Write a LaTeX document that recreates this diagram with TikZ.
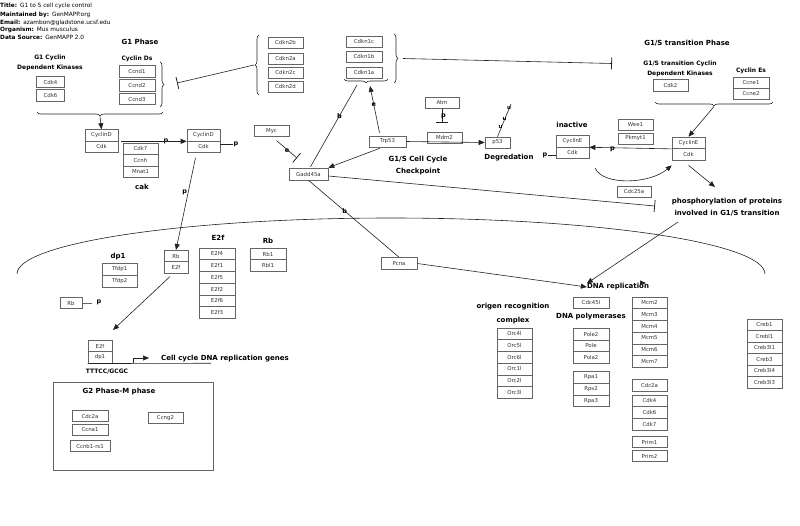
\documentclass[tikz,border=0pt]{standalone}
\usepackage{fontspec}
\setmainfont{DejaVu Sans}
\usetikzlibrary{arrows.meta,decorations.pathreplacing,calc}
\definecolor{boxc}{HTML}{666666}
\definecolor{txtc}{HTML}{333333}
\definecolor{linec}{HTML}{222222}
\begin{document}
\begin{tikzpicture}[x=1pt,y=-1pt,
 gbox/.style={draw=boxc, line width=0.6pt, text=txtc, font=\fontsize{5.4}{6}\selectfont, minimum width=36pt, minimum height=11.5pt, inner sep=0pt},
 hdr/.style={font=\bfseries\fontsize{7}{8}\selectfont, inner sep=0pt},
 shdr/.style={font=\bfseries\fontsize{6}{7}\selectfont, inner sep=0pt},
 mhdr/.style={font=\bfseries\fontsize{7}{8}\selectfont, inner sep=0pt},
 meta/.style={font=\fontsize{5.8}{7}\selectfont, anchor=west, inner sep=0pt},
 lab/.style={font=\bfseries\fontsize{6.5}{7}\selectfont, inner sep=0pt},
 conn/.style={line width=0.6pt, draw=linec},
 arr/.style={conn, -{Triangle[length=6pt,width=5pt]}},
 inh/.style={conn, -{Bar[width=12pt,line width=0.8pt]}},
 brc/.style={conn, decorate, decoration={brace, amplitude=4pt}},
]
\useasboundingbox (0,0) rectangle (800,525);
\fill[white] (0,0) rectangle (800,525);

% ---------- header ----------
\node[meta] (t1) at (0,6) {\textbf{Title:}\enspace G1 to S cell cycle control};
\node[meta] (t2) at (0,14.5) {\textbf{Maintained by:}\enspace GenMAPP.org};
\node[meta] (t3) at (0,22.5) {\textbf{Email:}\enspace azambon@gladstone.ucsf.edu};
\node[meta] (t4) at (0,30) {\textbf{Organism:}\enspace Mus musculus};
\node[meta] (t5) at (0,37.5) {\textbf{Data Source:}\enspace GenMAPP 2.0};

% ---------- G1 phase ----------
\node[hdr] (g1ph) at (140,42) {G1 Phase};
\node[shdr] (g1c1) at (50,58) {G1 Cyclin};
\node[shdr] (g1c2) at (50,67.5) {Dependent Kinases};
\node[gbox, minimum width=28pt] (cdk4a) at (50.5,82) {Cdk4};
\node[gbox, minimum width=28pt] (cdk6a) at (50.5,95.5) {Cdk6};
\node[shdr] (cycds) at (137,59) {Cyclin Ds};
\node[gbox] (ccnd1) at (137,71.5) {Ccnd1};
\node[gbox] (ccnd2) at (137,85.5) {Ccnd2};
\node[gbox] (ccnd3) at (137,99) {Ccnd3};

\draw[brc] (160,62) -- (160,107);
\coordinate (ccndtip) at (165,84.5);
\coordinate (ccndbar) at (177,83);
\draw[brc] (163,112) -- (37,112);
\coordinate (g1tip) at (100,116.5);

\node[gbox, minimum width=33pt] (cycdL) at (101.5,135.25) {CyclinD};
\node[gbox, minimum width=33pt] (cdkL) at (101.5,146.75) {Cdk};
\draw[arr] (g1tip) -- (cycdL.north);

\node[gbox, minimum width=35pt] (cdk7a) at (140.5,148.75) {Cdk7};
\node[gbox, minimum width=35pt] (ccnh) at (140.5,160.25) {Ccnh};
\node[gbox, minimum width=35pt] (mnat1) at (140.5,171.75) {Mnat1};
\node[hdr] (cak) at (142,187) {cak};

\node[gbox, minimum width=33pt] (cycdR) at (203.5,135.25) {CyclinD};
\node[gbox, minimum width=33pt] (cdkR) at (203.5,146.75) {Cdk};
\node[lab] (pcak) at (166,141.5) {p};
\draw[arr] (cycdL.south east) ++(3,0) coordinate (cdL) (cdL) -- (cycdR.south west);
\node[lab] (pR) at (236,144) {p};
\draw[conn] (cdkR.east |- pR) -- (pR.west);

% ---------- Cdkn groups ----------
\node[gbox, minimum width=35pt, minimum height=11pt] (cdkn2b) at (285.5,42.5) {Cdkn2b};
\node[gbox, minimum width=35pt, minimum height=11pt] (cdkn2a) at (285.5,58.5) {Cdkn2a};
\node[gbox, minimum width=35pt, minimum height=11pt] (cdkn2c) at (285.5,72.5) {Cdkn2c};
\node[gbox, minimum width=35pt, minimum height=11pt] (cdkn2d) at (285.5,86.5) {Cdkn2d};
\draw[brc] (259,95) -- (259,35);
\coordinate (c2tip) at (254,65);
\draw[inh] (c2tip) -- (ccndbar);

\node[gbox, minimum height=11pt] (cdkn1c) at (364,41.5) {Cdkn1c};
\node[gbox, minimum height=11pt] (cdkn1b) at (364,56.5) {Cdkn1b};
\node[gbox, minimum height=11pt] (cdkn1a) at (364,72.5) {Cdkn1a};
\draw[brc] (394,34) -- (394,83);
\coordinate (c1tip) at (399,58.5);
\coordinate (c1bar) at (612,63.5);
\draw[inh] (c1tip) ++(4,0) coordinate (c1s) (c1s) -- (c1bar);
\draw[brc] (388,79) -- (344,79);
\coordinate (c1btipL) at (357,85);
\coordinate (c1btipR) at (370,86);

% ---------- checkpoint ----------
\node[gbox, minimum width=35pt, minimum height=10.5pt] (myc) at (271.5,131) {Myc};
\node[gbox, minimum width=39pt, minimum height=12pt] (gadd) at (308.5,174) {Gadd45a};
\node[gbox, minimum width=37pt, minimum height=11pt] (trp53) at (387.5,141.5) {Trp53};
\node[gbox, minimum width=35pt, minimum height=11pt] (mdm2) at (444.5,137.5) {Mdm2};
\node[gbox, minimum width=34pt, minimum height=10.5pt] (atm) at (442,103) {Atm};
\node[gbox, minimum width=25pt, minimum height=11pt] (p53) at (497.5,142.5) {p53};

\coordinate (mycbar) at (297,158);
\draw[inh] (myc.south) ++(5,4) coordinate (mycs) (mycs) -- (mycbar);
\node[lab] (emyc) at (287,151) {e};

\draw[conn] (gadd.north) ++(2,-1) coordinate (gn) (gn) -- node[lab, pos=0.62] (bgc) {b} (c1btipL);
\draw[arr] (trp53.north) ++(-8,-3) coordinate (tn) (tn) -- node[lab, pos=0.6] (etc) {e} (c1btipR);
\draw[arr] (trp53.south west) ++(11,1) coordinate (tsw) (tsw) -- (gadd.north east);
\draw[arr] (trp53.east) -- (p53.west);
\coordinate (atmbar) at (442,123);
\draw[inh] (atm.south) -- (atmbar);
\node[lab] (patm) at (443.5,116.5) {p};
\coordinate (p53u) at (511,104);
\draw[conn] (p53.north) -- (p53u);
\node[lab, font=\bfseries\fontsize{5.5}{6}\selectfont] (u1) at (500.5,127.5) {u};
\node[lab, font=\bfseries\fontsize{5.5}{6}\selectfont] (u2) at (504.5,119.5) {u};
\node[lab, font=\bfseries\fontsize{5.5}{6}\selectfont] (u3) at (509,108) {u};

\node[hdr] (chk1) at (418,160) {G1/S Cell Cycle};
\node[hdr] (chk2) at (418,172) {Checkpoint};
\node[hdr] (degr) at (509,158) {Degredation};

\coordinate (gaddbar) at (655,206);
\draw[inh] (gadd.east) ++(0,2) coordinate (ge) (ge) -- (gaddbar);

% ---------- G1/S transition ----------
\node[hdr] (g1sph) at (687,43) {G1/S transition Phase};
\node[shdr] (g1sc1) at (680,64) {G1/S transition Cyclin};
\node[shdr] (g1sc2) at (680,74) {Dependent Kinases};
\node[gbox, minimum width=35pt] (cdk2) at (670.5,85.5) {Cdk2};
\node[shdr] (cyces) at (751,71) {Cyclin Es};
\node[gbox, minimum width=36pt, minimum height=11pt] (ccne1) at (751,82.5) {Ccne1};
\node[gbox, minimum width=36pt, minimum height=11pt] (ccne2) at (751,94) {Ccne2};
\draw[brc] (773,102) -- (655,102);
\coordinate (g1stip) at (714,106.5);

\node[gbox, minimum width=33pt] (cycER) at (688.5,142.75) {CyclinE};
\node[gbox, minimum width=33pt] (cdkER) at (688.5,154.25) {Cdk};
\draw[arr] (g1stip) -- (cycER.north);

\node[gbox, minimum width=35pt, minimum height=11pt] (wee1) at (635.5,124.5) {Wee1};
\node[gbox, minimum width=35pt, minimum height=11pt] (pkmyt1) at (635.5,138.5) {Pkmyt1};

\node[hdr] (inact) at (572,125) {inactive};
\node[gbox, minimum width=33pt] (cycEL) at (572.5,141.25) {CyclinE};
\node[gbox, minimum width=33pt] (cdkEL) at (572.5,152.75) {Cdk};
\draw[arr] (cycER.south west) -- ++(-4,0) coordinate (ew) (ew) -- (cycEL.south east);
\node[lab] (pE) at (612.5,149.5) {p};
\node[lab] (pEL) at (545,155) {p};
\draw[conn] (pEL.east) -- (cdkEL.west |- pEL);

\node[gbox, minimum width=34pt, minimum height=11pt] (cdc25a) at (634,191.5) {Cdc25a};
\coordinate (cvs) at (595,168);
\coordinate (cve) at ($(cdkER.south west)+(0,5)$);
\draw[arr] (cvs) .. controls (603,186) and (650,184) .. (cve);

\node[mhdr] (phos1) at (727,202) {phosphorylation of proteins};
\node[mhdr] (phos2) at (727,213.5) {involved in G1/S transition};
\draw[arr] (cdkER.south) ++(0,5) coordinate (es) (es) -- (715,187);

% ---------- nucleus curve ----------
\draw[conn] (17,274) .. controls (17,243) and (184.4,218) .. (391,218) .. controls (597.6,218) and (765,243) .. (765,274);

% ---------- E2f / Rb ----------
\node[hdr] (dp1t) at (118,257) {dp1};
\node[gbox, minimum width=35pt] (tfdp1) at (119.5,269.5) {Tfdp1};
\node[gbox, minimum width=35pt] (tfdp2) at (119.5,281.5) {Tfdp2};
\node[gbox, minimum width=24pt] (rbA) at (176,256) {Rb};
\node[gbox, minimum width=24pt] (e2fA) at (176,267.5) {E2f};
\draw[arr] (cdkR.south) ++(-8,5) coordinate (cs) (cs) -- node[lab, pos=0.37, left=1pt] (pcd) {p} (rbA.north);

\node[hdr] (e2ft) at (218,238) {E2f};
\node[gbox, minimum height=11.7pt] (e2f4) at (217,253.85) {E2f4};
\node[gbox, minimum height=11.7pt] (e2f1) at (217,265.55) {E2f1};
\node[gbox, minimum height=11.7pt] (e2f5) at (217,277.25) {E2f5};
\node[gbox, minimum height=11.7pt] (e2f2) at (217,288.95) {E2f2};
\node[gbox, minimum height=11.7pt] (e2f6) at (217,300.65) {E2f6};
\node[gbox, minimum height=11.7pt] (e2f3) at (217,312.35) {E2f3};
\node[hdr] (rbt) at (268,241) {Rb};
\node[gbox] (rb1) at (268,254) {Rb1};
\node[gbox] (rbl1) at (268,265.5) {Rbl1};

\node[gbox, minimum width=22pt, minimum height=10.5pt] (rbP) at (71,303) {Rb};
\node[lab] (prb) at (99,302) {p};
\draw[conn, draw=boxc] (rbP.east) -- ++(10,0);

\node[gbox, minimum width=24pt] (e2fB) at (100,346) {E2f};
\node[gbox, minimum width=24pt] (dp1B) at (100,357.5) {dp1};
\draw[arr] (e2fA.south) ++(-6,3) coordinate (es2) (es2) -- (113,330);
\coordinate (geneEnd) at (211,363.25);
\draw[conn] (dp1B.south west) -- (geneEnd);
\draw[conn, -{Triangle[length=6pt,width=5pt]}] (133,363.25) -- (133,358) -- (149,358);
\node[mhdr, anchor=west] (genes) at (161,359) {Cell cycle DNA replication genes};
\node[shdr] (tttcc) at (107,372) {TTTCC/GCGC};

\node[gbox, minimum width=36pt, minimum height=12pt] (pcna) at (399,263.5) {Pcna};
\draw[conn] (gadd.south) -- node[lab, pos=0.4] (bpc) {b} (pcna.north);

% ---------- G2-M ----------
\draw[line width=0.6pt, draw=boxc] (53,382) rectangle (213,470);
\node[mhdr] (g2t) at (119,392) {G2 Phase-M phase};
\node[gbox, minimum width=36pt] (cdc2aG) at (90,416) {Cdc2a};
\node[gbox, minimum width=36pt] (ccna1) at (90,430) {Ccna1};
\node[gbox, minimum width=40pt] (ccnb1) at (90,446) {Ccnb1-rs1};
\node[gbox, minimum width=35pt] (ccng2) at (165.5,418) {Ccng2};

% ---------- DNA replication ----------
\node[mhdr] (dnarep) at (618,287) {DNA replication};
\draw[arr] (pcna.east) -- (dnarep.west);
\draw[arr] (678,222) -- (dnarep.north west);
\coordinate (tipA) at (644,283);
\draw[arr] (tipA) -- ++(2,0);

\node[mhdr] (orct1) at (513,307) {origen recognition};
\node[mhdr] (orct2) at (513,321) {complex};
\node[gbox, minimum width=35pt, minimum height=11.7pt] (orc4) at (514.5,333.85) {Orc4l};
\node[gbox, minimum width=35pt, minimum height=11.7pt] (orc5) at (514.5,345.55) {Orc5l};
\node[gbox, minimum width=35pt, minimum height=11.7pt] (orc6) at (514.5,357.25) {Orc6l};
\node[gbox, minimum width=35pt, minimum height=11.7pt] (orc1) at (514.5,368.95) {Orc1l};
\node[gbox, minimum width=35pt, minimum height=11.7pt] (orc2) at (514.5,380.65) {Orc2l};
\node[gbox, minimum width=35pt, minimum height=11.7pt] (orc3) at (514.5,392.35) {Orc3l};

\node[gbox, minimum height=11pt] (cdc45) at (591,302.5) {Cdc45l};
\node[mhdr] (polt) at (591,317) {DNA polymerases};
\node[gbox, minimum height=11.7pt] (pole2) at (591,334) {Pole2};
\node[gbox, minimum height=11.7pt] (pole) at (591,345.7) {Pole};
\node[gbox, minimum height=11.7pt] (pola2) at (591,357.4) {Pola2};
\node[gbox, minimum height=11.7pt] (rpa1) at (591,377.5) {Rpa1};
\node[gbox, minimum height=11.7pt] (rps2) at (591,389.2) {Rps2};
\node[gbox, minimum height=11.7pt] (rpa3) at (591,400.9) {Rpa3};

\node[gbox, minimum width=35pt, minimum height=11.7pt] (mcm2) at (649.5,302.85) {Mcm2};
\node[gbox, minimum width=35pt, minimum height=11.7pt] (mcm3) at (649.5,314.55) {Mcm3};
\node[gbox, minimum width=35pt, minimum height=11.7pt] (mcm4) at (649.5,326.25) {Mcm4};
\node[gbox, minimum width=35pt, minimum height=11.7pt] (mcm5) at (649.5,337.95) {Mcm5};
\node[gbox, minimum width=35pt, minimum height=11.7pt] (mcm6) at (649.5,349.65) {Mcm6};
\node[gbox, minimum width=35pt, minimum height=11.7pt] (mcm7) at (649.5,361.35) {Mcm7};
\node[gbox, minimum width=35pt, minimum height=11.7pt] (cdc2aR) at (649.5,385) {Cdc2a};
\node[gbox, minimum width=35pt, minimum height=11.7pt] (cdk4b) at (649.5,400.85) {Cdk4};
\node[gbox, minimum width=35pt, minimum height=11.7pt] (cdk6b) at (649.5,412.55) {Cdk6};
\node[gbox, minimum width=35pt, minimum height=11.7pt] (cdk7b) at (649.5,424.25) {Cdk7};
\node[gbox, minimum width=35pt, minimum height=11pt] (prim1) at (649.5,442) {Prim1};
\node[gbox, minimum width=35pt, minimum height=11pt] (prim2) at (649.5,456) {Prim2};

\node[gbox, minimum width=35pt] (creb1) at (764.5,324.75) {Creb1};
\node[gbox, minimum width=35pt] (crebl1) at (764.5,336.25) {Crebl1};
\node[gbox, minimum width=35pt] (creb3l1) at (764.5,347.75) {Creb3l1};
\node[gbox, minimum width=35pt] (creb3) at (764.5,359.25) {Creb3};
\node[gbox, minimum width=35pt] (creb3l4) at (764.5,370.75) {Creb3l4};
\node[gbox, minimum width=35pt] (creb3l3) at (764.5,382.25) {Creb3l3};
\end{tikzpicture}
\end{document}
